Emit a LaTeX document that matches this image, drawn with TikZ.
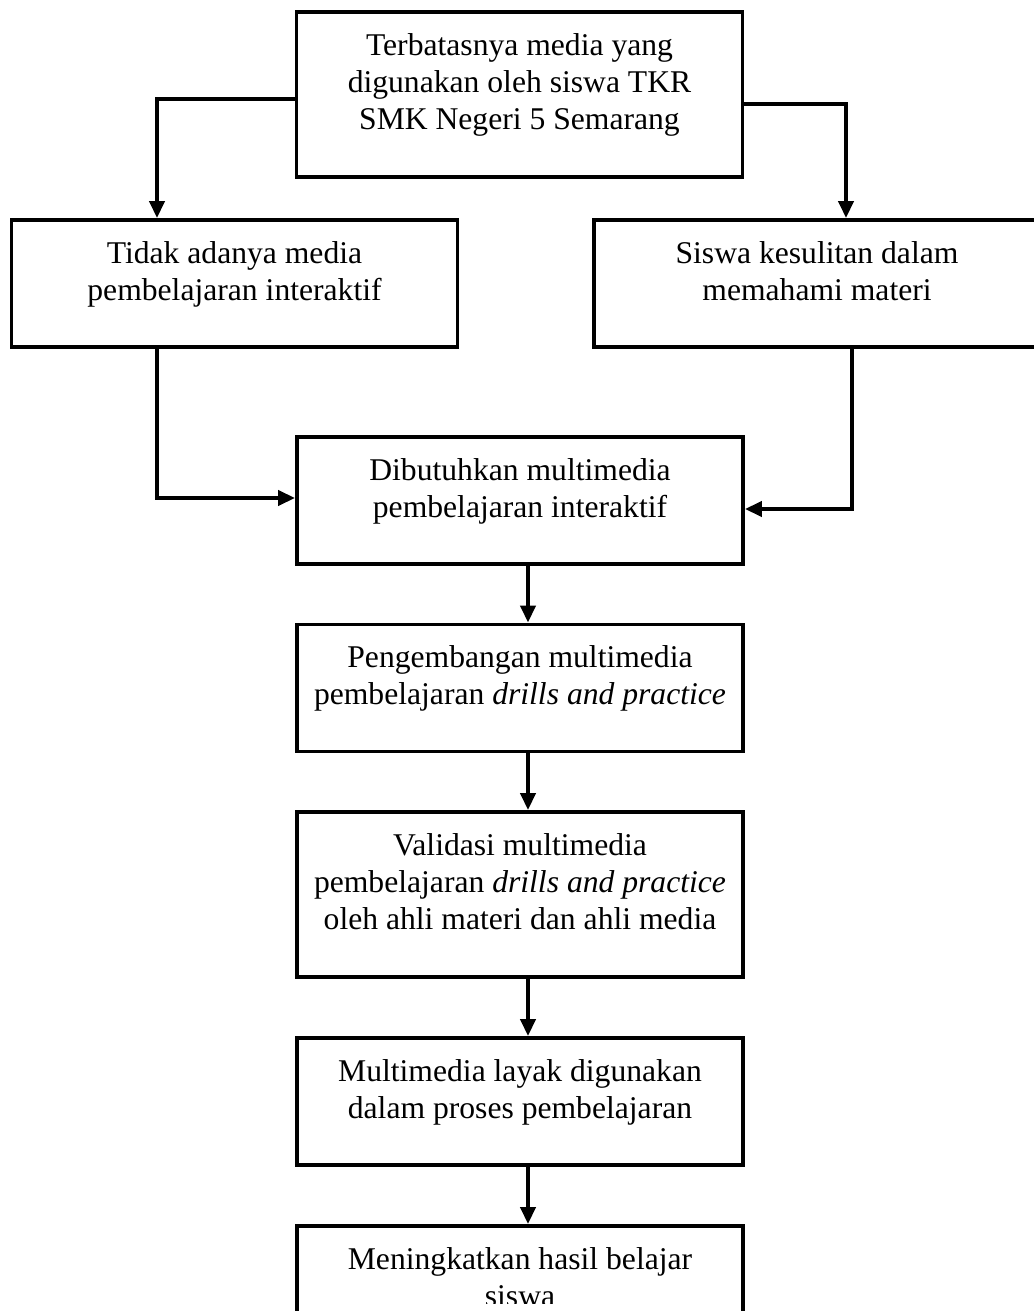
\documentclass[tikz,border=0pt]{standalone}
\usepackage{fontspec}
\setmainfont{Liberation Serif}
\usetikzlibrary{arrows.meta,calc,positioning}

\begin{document}
\begin{tikzpicture}[thick]
	% `box' is used for the frames, `txt' for the text set at their top.
	% `arr' is used for every connector.
	\tikzstyle{box} = [draw,line width=2.2pt,minimum width=8.92cm,minimum height=2.54cm,inner sep=0pt]
	\tikzstyle{tall} = [minimum height=3.3cm]
	\tikzstyle{txt} = [align=center,inner sep=0pt,anchor=north,font=\fontsize{18}{21}\selectfont]
	\tikzstyle{arr} = [line width=2.2pt,-{Triangle[length=3.4mm,width=3mm]}]
	\useasboundingbox (0,0) rectangle (20.66,-26.22);
	%
	% First row.
	\node[box,tall] (bTop) at (10.39,-1.89) {};
	\node[txt] (tTop) at ([yshift=-0.45cm]bTop.north) {Terbatasnya media yang\\digunakan oleh siswa TKR\\SMK Negeri 5 Semarang};
	% second row.
	\node[box] (bLeft) at (4.69,-5.67) {};
	\node[txt] (tLeft) at ([yshift=-0.45cm]bLeft.north) {Tidak adanya media\\pembelajaran interaktif};
	\node[box] (bRight) at (16.34,-5.67) {};
	\node[txt] (tRight) at ([yshift=-0.45cm]bRight.north) {Siswa kesulitan dalam\\memahami materi};
	% middle column.
	\node[box] (bNeed) at (10.40,-10.01) {};
	\node[txt] (tNeed) at ([yshift=-0.45cm]bNeed.north) {Dibutuhkan multimedia\\pembelajaran interaktif};
	\node[box] (bDev) at (10.40,-13.76) {};
	\node[txt] (tDev) at ([yshift=-0.45cm]bDev.north) {Pengembangan multimedia\\pembelajaran \textit{drills and practice}};
	\node[box,tall] (bValid) at (10.40,-17.89) {};
	\node[txt] (tValid) at ([yshift=-0.45cm]bValid.north) {Validasi multimedia\\pembelajaran \textit{drills and practice}\\oleh ahli materi dan ahli media};
	\node[box] (bFit) at (10.40,-22.03) {};
	\node[txt] (tFit) at ([yshift=-0.45cm]bFit.north) {Multimedia layak digunakan\\dalam proses pembelajaran};
	% last box, cut by the page.
	\node[box] (bResult) at (10.40,-25.79) {};
	\begin{scope}
		\clip (bResult.north west) rectangle (bResult.east |- 0,-26.06);
		\node[txt] (tResult) at ([yshift=-0.45cm]bResult.north) {Meningkatkan hasil belajar\\siswa};
	\end{scope}
	%
	% Draw connectors.
	\draw[arr] ([yshift=-0.09cm]bTop.west) -| ([xshift=-1.55cm]bLeft.north);
	\draw[arr] ([yshift=-0.19cm]bTop.east) -| ([xshift=0.58cm]bRight.north);
	\draw[arr] ([xshift=-1.55cm]bLeft.south) |- ([yshift=0.05cm]bNeed.west);
	\draw[arr] ([xshift=0.7cm]bRight.south) |- ([yshift=-0.17cm]bNeed.east);
	\foreach \a/\b in {bNeed/bDev,bDev/bValid,bValid/bFit,bFit/bResult}
		\draw[arr] ([xshift=0.16cm]\a.south) -- ([xshift=0.16cm]\b.north);
%
\end{tikzpicture}
\end{document}
